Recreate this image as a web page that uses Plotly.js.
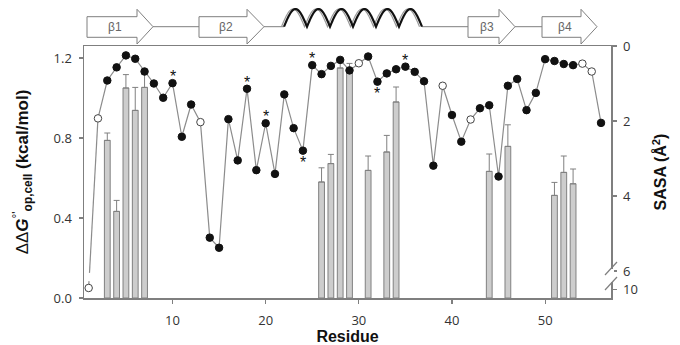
<!DOCTYPE html>
<html>
<head>
<meta charset="utf-8">
<script src="https://cdn.plot.ly/plotly-3.0.1.min.js"></script>
<style>html,body{margin:0;padding:0;background:#fff;}#chart{width:680px;height:345px;}</style>
</head>
<body>
<div id="chart"></div>
<script>
// ---- data ----
const residues = [1,2,3,4,5,6,7,8,9,10,11,12,13,14,15,16,17,18,19,20,21,22,23,24,25,26,27,28,29,30,31,32,33,34,35,36,37,38,39,40,41,42,43,44,45,46,47,48,49,50,51,52,53,54,55,56];
const sasa = [9.9,1.93,0.92,0.57,0.25,0.34,0.68,1.0,1.38,0.99,2.42,1.56,2.03,5.11,5.38,1.95,3.05,1.14,3.31,2.06,3.41,1.29,2.19,2.79,0.51,0.75,0.53,0.37,0.65,0.46,0.28,0.95,0.73,0.62,0.55,0.69,0.94,3.19,1.06,1.84,2.55,1.96,1.66,1.58,3.48,1.06,0.88,1.71,1.25,0.35,0.40,0.48,0.51,0.47,0.68,2.05];
const openResidues = [1,2,13,30,39,42,54,55];
const starAbove = [10,18,20,25,35];
const starBelow = [24,32];
const barResidues = [3,4,5,6,7,26,27,28,29,31,33,34,44,46,51,52,53];
const ddG = [0.788,0.433,1.05,0.938,1.053,0.58,0.672,1.15,1.133,0.638,0.73,0.98,0.633,0.758,0.513,0.628,0.571];
const ddGErr = [0.037,0.055,0.067,0.115,0.064,0.071,0.046,0.04,0.04,0.072,0.083,0.075,0.087,0.108,0.065,0.082,0.074];
const xTicks = [10,20,30,40,50];
const leftTicks = [0,0.4,0.8,1.2];
const rightTickValues = [0,2,4,6,10];
const ssLabels = ['β1','β2','β3','β4'];

// ---- broken right axis mapping (0..6 linear, then break, 10 drawn just below) ----
const BREAK_LO = 6.05, BREAK_HI = 6.27, TEN_POS = 6.49;
function disp(v){ return v <= 6 ? v : TEN_POS + (v - 10) * 0.375; }
const sasaD = sasa.map(disp);

const GREY = '#7f7f7f';
const traces = [];

// bars with upward error bars
traces.push({
  type:'bar', x: barResidues, y: ddG, width: 0.62, yaxis:'y',
  marker:{color:'#cdcdcd', line:{color:'#808080', width:1}},
  error_y:{type:'data', array: ddGErr, arrayminus: ddGErr.map(()=>0), symmetric:false, color:'#808080', thickness:1, width:3},
  showlegend:false
});

// line from residue 2 onward
const i2 = residues.indexOf(2);
traces.push({
  type:'scatter', mode:'lines', x: residues.slice(i2), y: sasaD.slice(i2), yaxis:'y2',
  line:{color:'#8c8c8c', width:1.2}, showlegend:false
});
// broken segment between residue 1 and 2
(function(){
  const x1 = residues[0], y1 = sasaD[0], x2 = residues[1], y2 = sasaD[1];
  const xAt = d => x2 + (x1 - x2) * (d - y2) / (y1 - y2);
  traces.push({
    type:'scatter', mode:'lines', yaxis:'y2',
    x:[x2, xAt(BREAK_LO), null, xAt(BREAK_HI), x1],
    y:[y2, BREAK_LO, null, BREAK_HI, y1],
    line:{color:'#8c8c8c', width:1.2}, showlegend:false
  });
})();

// markers
const isOpen = residues.map(r => openResidues.includes(r));
traces.push({
  type:'scatter', mode:'markers', x: residues, y: sasaD, yaxis:'y2', cliponaxis:false,
  marker:{size:7.5, color: isOpen.map(o => o ? '#ffffff' : '#111111'),
          line:{color: isOpen.map(o => o ? '#444444' : '#111111'), width:1}},
  showlegend:false
});

// ---- decorations ----
const L = 84, R = 611, T = 46, B = 298;
const PX = p => (p - L) / (R - L);
const PY = p => (B - p) / (B - T);
const shapes = [], annotations = [];

// stars
const starFont = {family:'Liberation Sans, Arial', size:16, color:'#111'};
starAbove.forEach(r => annotations.push({xref:'x', yref:'y2', x:r, y:sasaD[residues.indexOf(r)], text:'*', showarrow:false,
  xanchor:'center', yanchor:'middle', yshift:6.5, font:starFont}));
starBelow.forEach(r => annotations.push({xref:'x', yref:'y2', x:r, y:sasaD[residues.indexOf(r)], text:'*', showarrow:false,
  xanchor:'center', yanchor:'middle', yshift:-12, font:starFont}));

// secondary structure
const yc = 26.7, yt = 16.7, yb = 37.3, yht = 9.3, yhb = 44;
const arrows = [[87,137,153],[199,247,264],[468,499,515],[542,581,597]];
arrows.forEach((a, i) => {
  const [xL, xH, xT] = a;
  const path = `M ${PX(xL)},${PY(yt)} L ${PX(xH)},${PY(yt)} L ${PX(xH)},${PY(yht)} L ${PX(xT)},${PY(yc)} L ${PX(xH)},${PY(yhb)} L ${PX(xH)},${PY(yb)} L ${PX(xL)},${PY(yb)} Z`;
  shapes.push({type:'path', xref:'paper', yref:'paper', path, fillcolor:'#ffffff', line:{color:GREY, width:1}, layer:'above'});
  annotations.push({xref:'paper', yref:'paper', x: PX((xL + xH) / 2 + 3), y: PY(yc), text: ssLabels[i], showarrow:false,
    font:{family:'Liberation Sans, Arial', size:12, color:'#666'}, xanchor:'center', yanchor:'middle'});
});
[[153,199],[264,284],[422,468],[515,542]].forEach(s => {
  shapes.push({type:'line', xref:'paper', yref:'paper', x0:PX(s[0]), x1:PX(s[1]), y0:PY(yc), y1:PY(yc), line:{color:GREY, width:1}, layer:'above'});
});
function helixPath(x0, x1, n, dx){
  const per = (x1 - x0) / n; let p = '';
  for (let k = 0; k <= 240; k++) {
    const x = x0 + (x1 - x0) * k / 240;
    const y = yc - (yc - 9) * Math.abs(Math.sin(Math.PI * (x - x0) / per));
    p += (k ? ' L ' : 'M ') + PX(x + dx) + ',' + PY(y);
  }
  return p;
}
shapes.push({type:'path', xref:'paper', yref:'paper', path: helixPath(284, 422, 6, -2.5), line:{color:'#999', width:1.2}, layer:'above'});
shapes.push({type:'path', xref:'paper', yref:'paper', path: helixPath(284, 422, 6, 0), line:{color:'#111', width:2.2}, layer:'above'});

// axis break marks on right axis
shapes.push({type:'rect', xref:'paper', yref:'paper', x0:PX(608), x1:PX(614), y0:PY(282), y1:PY(269), fillcolor:'#fff', line:{width:0}, layer:'above'});
shapes.push({type:'line', xref:'paper', yref:'paper', x0:PX(605), x1:PX(617), y0:PY(275), y1:PY(262), line:{color:GREY, width:1.2}, layer:'above'});
shapes.push({type:'line', xref:'paper', yref:'paper', x0:PX(605), x1:PX(617), y0:PY(290), y1:PY(277), line:{color:GREY, width:1.2}, layer:'above'});

const tickFont = {family:'Open Sans, Liberation Sans, Arial', size:13, color:'#333'};
const titleFont = {family:'Liberation Sans, Arial', size:16, color:'#111'};

const layout = {
  width:680, height:345,
  margin:{l:L, r:680 - R, t:T, b:345 - B, pad:0},
  paper_bgcolor:'#fff', plot_bgcolor:'#fff',
  showlegend:false, bargap:0,
  xaxis:{range:[0.5,57.07], tickvals:xTicks, ticktext:xTicks.map(String), ticks:'outside', ticklen:4, tickcolor:GREY, tickwidth:1.2,
    showline:true, linecolor:GREY, linewidth:1.5, mirror:true, showgrid:false, zeroline:false, tickfont:tickFont,
    ticklabelstandoff:6,
    title:{text:'<b>Residue</b>', font:titleFont, standoff:3}},
  yaxis:{range:[0,1.26], tickvals:leftTicks, ticktext:leftTicks.map(v => v.toFixed(1)), ticks:'outside', ticklen:4, tickcolor:GREY, tickwidth:1.2,
    showline:true, linecolor:GREY, linewidth:1.5, showgrid:false, zeroline:false, tickfont:tickFont, ticklabelstandoff:4,
    title:{text:'ΔΔ<b><i>G</i></b><sup>°\'</sup><sub><b>op,cell</b></sub> <b>(kcal/mol)</b>', font:{family:'Liberation Sans, Arial', size:17, color:'#111'}, standoff:20}},
  yaxis2:{overlaying:'y', side:'right', range:[(B - T) / 37.5, 0], tickvals: rightTickValues.map(disp), ticktext: rightTickValues.map(String),
    ticks:'outside', ticklen:4, tickcolor:GREY, tickwidth:1.2, showline:true, linecolor:GREY, linewidth:1.5, showgrid:false, zeroline:false,
    tickfont:tickFont, ticklabelstandoff:4,
    title:{text:'<b>SASA (Å<sup>2</sup>)</b>', font:titleFont, standoff:18}},
  shapes, annotations
};
Plotly.newPlot('chart', traces, layout, {staticPlot:true, displayModeBar:false});
</script>
</body>
</html>
